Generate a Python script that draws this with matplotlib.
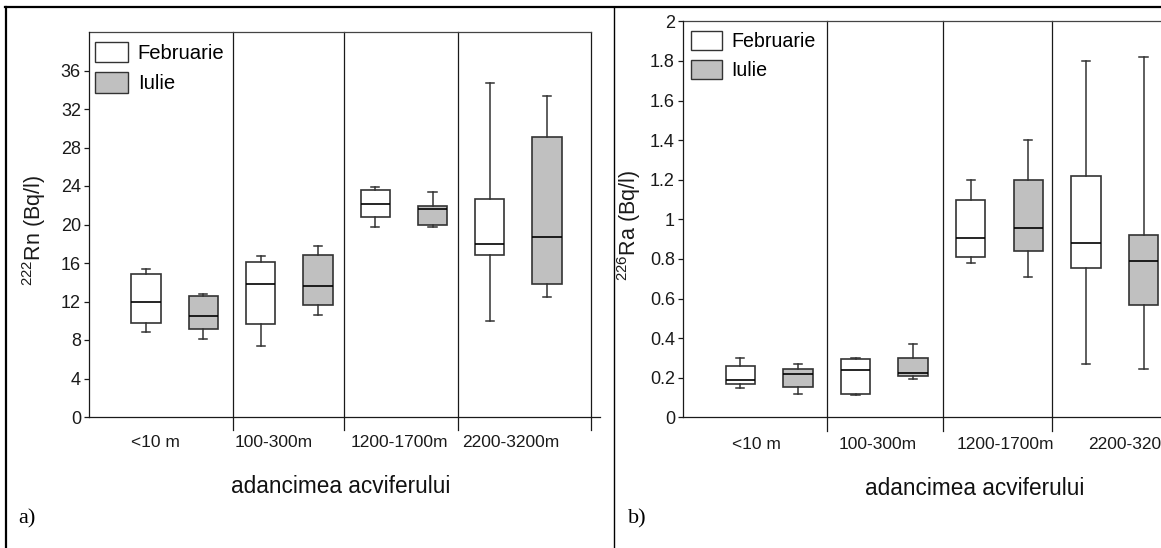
import matplotlib
matplotlib.use("Agg")
import matplotlib.pyplot as plt
from matplotlib.patches import Patch
from matplotlib.lines import Line2D

plt.rcParams["font.family"] = ["Liberation Sans", "DejaVu Sans"]
plt.rcParams["mathtext.fontset"] = "custom"
plt.rcParams["mathtext.rm"] = "Liberation Sans"

categories = ["<10 m", "100-300m", "1200-1700m", "2200-3200m"]
seasons = ["Februarie", "Iulie"]

# five-number boxes per depth class: whisker low, q1, median, q3, whisker high
rn_feb = [(8.8, 9.8, 12.0, 14.9, 15.4),
          (7.4, 9.7, 13.8, 16.1, 16.7),
          (19.7, 20.8, 22.1, 23.55, 23.9),
          (10.0, 16.8, 17.95, 22.65, 34.7)]
rn_jul = [(8.1, 9.15, 10.5, 12.55, 12.8),
          (10.6, 11.65, 13.6, 16.8, 17.8),
          (19.7, 20.0, 21.65, 21.9, 23.35),
          (12.45, 13.8, 18.75, 29.1, 33.3)]
ra_feb = [(0.15, 0.17, 0.19, 0.26, 0.30),
          (0.115, 0.12, 0.24, 0.295, 0.30),
          (0.78, 0.81, 0.905, 1.10, 1.20),
          (0.27, 0.755, 0.88, 1.22, 1.80)]
ra_jul = [(0.12, 0.155, 0.22, 0.245, 0.27),
          (0.195, 0.21, 0.225, 0.30, 0.37),
          (0.71, 0.84, 0.955, 1.20, 1.40),
          (0.245, 0.565, 0.79, 0.92, 1.82)]

rn_ticks = [0, 4, 8, 12, 16, 20, 24, 28, 32, 36]
ra_ticks = [0, 0.2, 0.4, 0.6, 0.8, 1, 1.2, 1.4, 1.6, 1.8, 2]

W, H = 1161, 548
DARK = "#333333"
GRAY = "#c0c0c0"


def stats(boxes):
    return [dict(whislo=b[0], q1=b[1], med=b[2], q3=b[3], whishi=b[4], fliers=[])
            for b in boxes]


def panel(ax, feb, jul, ymax, ticks, ylabel, ylab_x, seps, frame_x, label_x,
          xlab_x, lab_y, leg_anchor, leg_fs, hl, hh):
    n = len(categories)
    pos_feb = [2 * i + 1 for i in range(n)]
    pos_jul = [2 * i + 2 for i in range(n)]
    common = dict(widths=0.51, capwidths=0.14, patch_artist=True, showfliers=False,
                  whiskerprops=dict(color=DARK, lw=1.1),
                  capprops=dict(color=DARK, lw=1.1),
                  medianprops=dict(color="black", lw=1.2))
    ax.bxp(stats(feb), positions=pos_feb,
           boxprops=dict(facecolor="white", edgecolor=DARK, lw=1.2), **common)
    ax.bxp(stats(jul), positions=pos_jul,
           boxprops=dict(facecolor=GRAY, edgecolor=DARK, lw=1.2), **common)

    ax.set_xlim(0, 8.93)
    ax.set_ylim(0, ymax)
    ax.set_xticks([])
    ax.set_yticks(ticks)
    ax.set_yticklabels(["%g" % t for t in ticks])
    ax.tick_params(axis="y", direction="out", length=3.6, width=0.9, pad=2,
                   labelsize=13, colors="#1a1a1a")
    for s in ["top", "right"]:
        ax.spines[s].set_visible(False)
    for s in ["left", "bottom"]:
        ax.spines[s].set_color("#1a1a1a")
        ax.spines[s].set_linewidth(0.9)

    tr = ax.get_xaxis_transform()
    for s in seps + [frame_x]:
        ax.plot([s, s], [-0.034, 1], transform=tr, clip_on=False,
                color="#1a1a1a", lw=0.9)
    ax.plot([0, frame_x], [1, 1], transform=tr, clip_on=False,
            color="#444444", lw=0.9)

    for x, c in zip(label_x, categories):
        ax.text(x, lab_y, c, transform=tr, ha="center", va="center",
                fontsize=12.5, color="#1a1a1a", clip_on=False)
    ax.text(xlab_x, -0.18, "adancimea acviferului", transform=tr, ha="center",
            va="center", fontsize=16.3, color="#111111")

    ax.set_ylabel(ylabel, fontsize=15.5, color="#1a1a1a")
    ax.yaxis.set_label_coords(ylab_x, 0.485)

    handles = [Patch(facecolor="white", edgecolor=DARK, lw=1.0),
               Patch(facecolor=GRAY, edgecolor=DARK, lw=1.0)]
    ax.legend(handles, seasons, loc="upper left", bbox_to_anchor=leg_anchor,
              frameon=False, fontsize=leg_fs, handlelength=hl, handleheight=hh,
              labelspacing=0.45, handletextpad=0.5, borderpad=0, borderaxespad=0)


fig = plt.figure(figsize=(W / 100, H / 100), dpi=100)

# panel a) radon
ax_a = fig.add_axes([88.7 / W, 1 - 417 / H, 8.93 * 57.3 / W, 385 / H])
panel(ax_a, rn_feb, rn_jul, 40, rn_ticks, r"$\mathregular{^{222}}$Rn (Bq/l)", -0.08,
      [2.52, 4.46, 6.45], 8.77, [1.16, 3.22, 5.43, 7.36], 4.40, -0.065,
      (0.012, 0.975), 14.6, 1.62, 1.2)

# panel b) radium
ax_b = fig.add_axes([682.7 / W, 1 - 417.3 / H, 8.93 * 57.6 / W, 396 / H])
panel(ax_b, ra_feb, ra_jul, 2, ra_ticks, r"$\mathregular{^{226}}$Ra (Bq/l)", -0.077,
      [2.51, 4.52, 6.41], 8.77, [1.28, 3.39, 5.60, 7.89], 5.07, -0.068,
      (0.016, 0.975), 14.1, 1.58, 1.12)

# table borders around the two panels
fig.add_artist(Line2D([5 / W, 1], [1 - 7 / H, 1 - 7 / H], color="black", lw=1.6))
fig.add_artist(Line2D([6 / W, 6 / W], [0, 1 - 7 / H], color="black", lw=1.6))
fig.add_artist(Line2D([614 / W, 614 / W], [0, 1 - 7 / H], color="black", lw=1.0))

fig.text(18 / W, 1 - 519 / H, "a)", family="Liberation Serif", fontsize=16,
         va="center", ha="left")
fig.text(628 / W, 1 - 519 / H, "b)", family="Liberation Serif", fontsize=16,
         va="center", ha="left")

fig.savefig("out.png", dpi=100)
